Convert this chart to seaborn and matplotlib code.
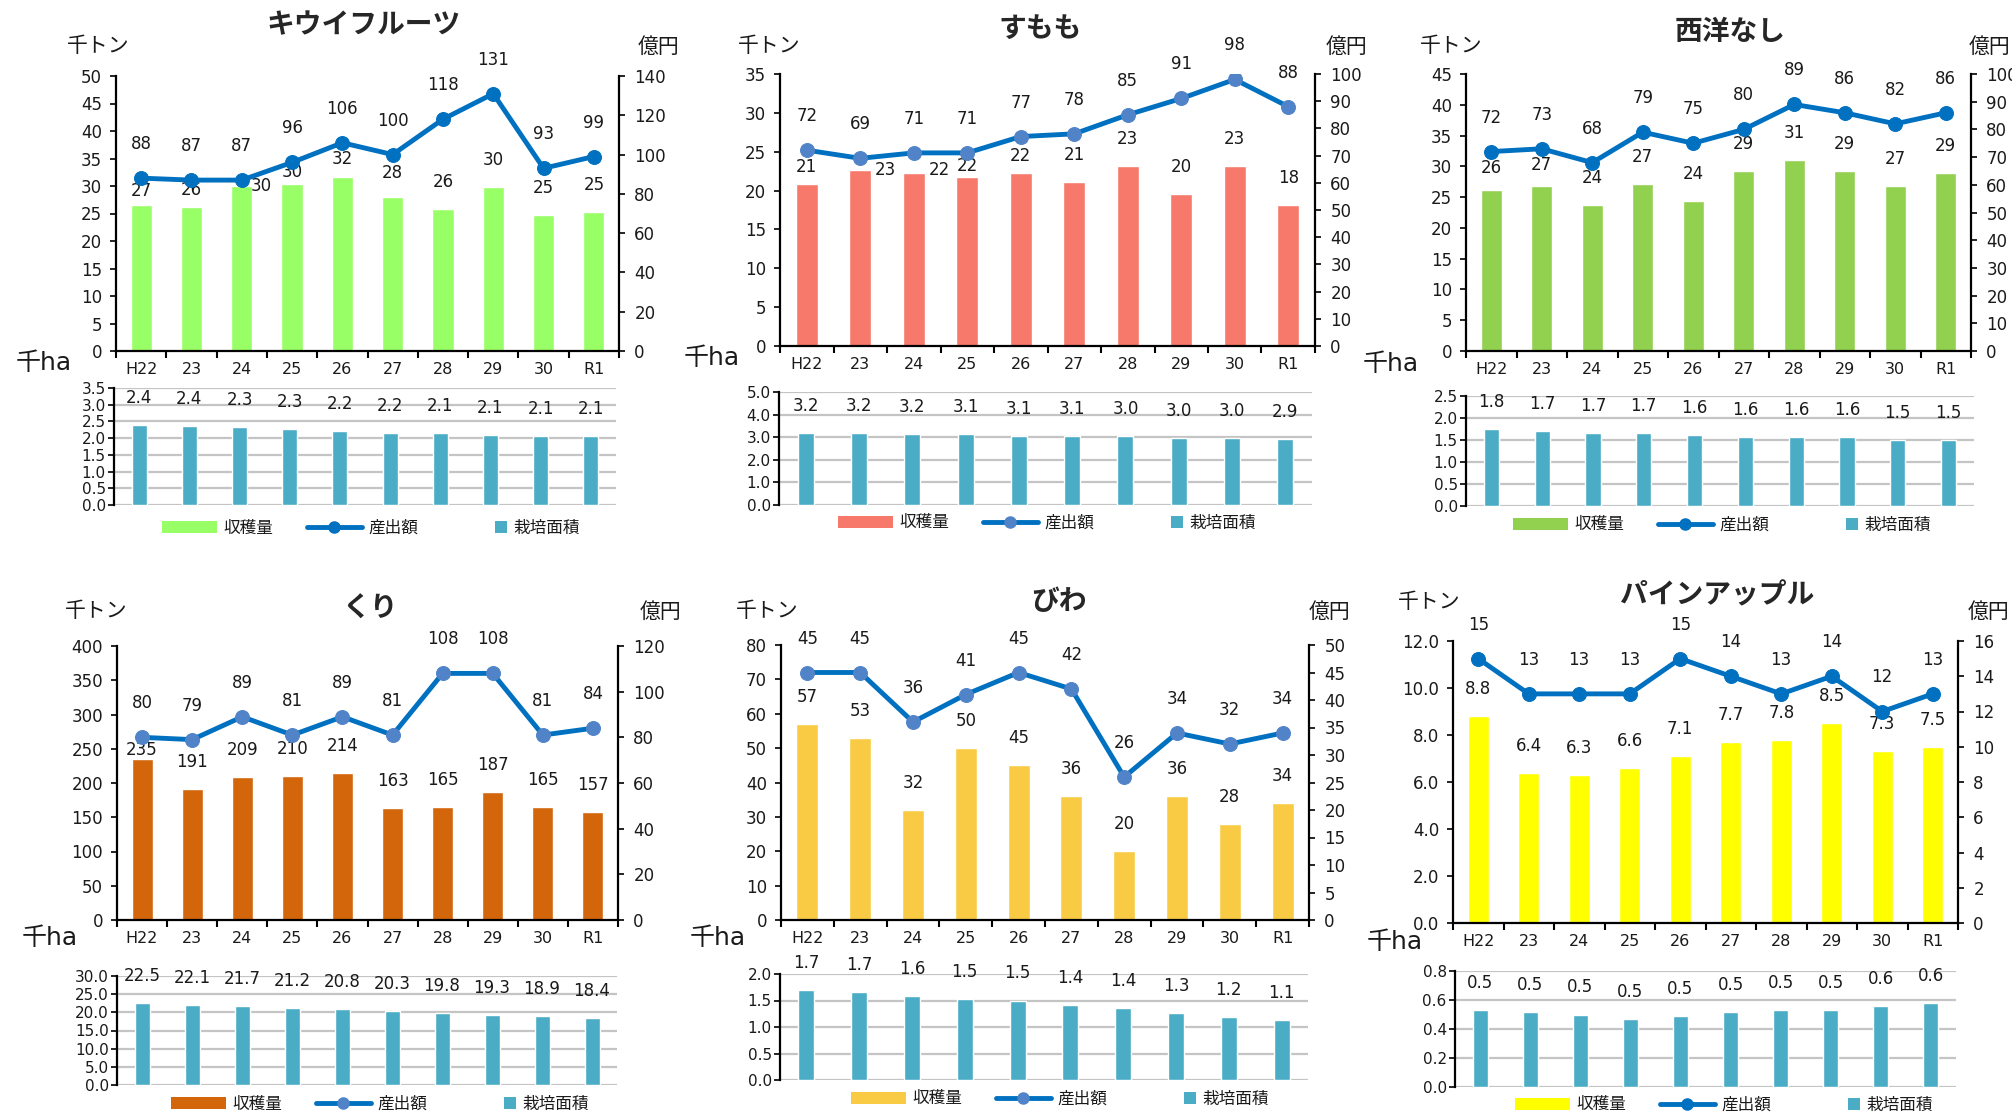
import numpy as np
import pandas as pd
import matplotlib
matplotlib.use("Agg")
import matplotlib.pyplot as plt
import seaborn as sns
from matplotlib.patches import Patch, Rectangle
from matplotlib.lines import Line2D
from matplotlib.legend_handler import HandlerBase
from matplotlib.ticker import MultipleLocator, FormatStrFormatter

# ---------------- data ----------------
years = ["H22", "23", "24", "25", "26", "27", "28", "29", "30", "R1"]

kiwi_harvest = [26.6, 26.2, 30.0, 30.4, 31.6, 28.0, 25.8, 29.9, 24.8, 25.2]
kiwi_output = [88, 87, 87, 96, 106, 100, 118, 131, 93, 99]
kiwi_area = [2.40, 2.36, 2.33, 2.28, 2.21, 2.16, 2.14, 2.08, 2.07, 2.06]

sumomo_harvest = [20.9, 22.6, 22.2, 21.7, 22.2, 21.1, 23.1, 19.6, 23.1, 18.1]
sumomo_output = [72, 69, 71, 71, 77, 78, 85, 91, 98, 88]
sumomo_area = [3.17, 3.17, 3.16, 3.14, 3.07, 3.06, 3.04, 2.98, 2.97, 2.94]

pear_harvest = [26.1, 26.8, 23.7, 27.1, 24.4, 29.2, 31.0, 29.2, 26.8, 28.9]
pear_output = [72, 73, 68, 79, 75, 80, 89, 86, 82, 86]
pear_area = [1.76, 1.70, 1.66, 1.66, 1.61, 1.56, 1.56, 1.56, 1.51, 1.51]

kuri_harvest = [235, 191, 209, 210, 214, 163, 165, 187, 165, 157]
kuri_output = [80, 79, 89, 81, 89, 81, 108, 108, 81, 84]
kuri_area = [22.5, 22.1, 21.7, 21.2, 20.8, 20.3, 19.8, 19.3, 18.9, 18.4]

biwa_harvest = [57, 53, 32, 50, 45, 36, 20, 36, 28, 34]
biwa_output = [45, 45, 36, 41, 45, 42, 26, 34, 32, 34]
biwa_area = [1.70, 1.66, 1.58, 1.53, 1.50, 1.42, 1.36, 1.26, 1.18, 1.13]

pine_harvest = [8.8, 6.4, 6.3, 6.6, 7.1, 7.7, 7.8, 8.5, 7.3, 7.5]
pine_output = [15, 13, 13, 13, 15, 14, 13, 14, 12, 13]
pine_area = [0.53, 0.52, 0.50, 0.47, 0.49, 0.52, 0.53, 0.53, 0.56, 0.58]

titles = ["キウイフルーツ", "すもも", "西洋なし", "くり", "びわ", "パインアップル"]
legend_labels = ["収穫量", "産出額", "栽培面積"]

# ---------------- style ----------------
sns.set_style("ticks")
plt.rcParams["font.family"] = ["DejaVu Sans", "Noto Sans CJK JP"]

W, H = 2012, 1113
PX = 72 / 100  # points per pixel
LINE_C = "#0070C0"
AREA_C = "#4BACC6"
TXT_C = "#1A1A1A"


def rect(x0, x1, y0, y1):
    return [x0 / W, 1 - y1 / H, (x1 - x0) / W, (y1 - y0) / H]


class SquareHandler(HandlerBase):
    def create_artists(self, legend, orig_handle, xdescent, ydescent,
                       width, height, fontsize, trans):
        s = height
        r = Rectangle((-xdescent + width - s, -ydescent), s, s,
                      facecolor=orig_handle.get_facecolor(), edgecolor="none",
                      transform=trans)
        return [r]


panels = [
    dict(title=titles[0], harvest=kiwi_harvest, output=kiwi_output, area=kiwi_area,
         bar_c="#99FF66", mk_c=LINE_C, lmax=50, lstep=5, rmax=140, rstep=20,
         bmax=3.5, bstep=0.5, hfmt="{:.0f}", lfmt="%d",
         top=(116, 619, 76, 351), bot=(114, 616, 388, 505),
         title_xy=(364, 25), ton_xy=(98, 46), yen_xy=(659, 47), ha_xy=(44, 363),
         leg_xy=(371, 528),
         nudge={0: (0, 14), 1: (0, 17), 2: (20, 0), 3: (0, 12), 4: (0, 18), 5: (0, 24)}),
    dict(title=titles[1], harvest=sumomo_harvest, output=sumomo_output, area=sumomo_area,
         bar_c="#F7796B", mk_c="#5083C8", lmax=35, lstep=5, rmax=100, rstep=10,
         bmax=5.0, bstep=1.0, hfmt="{:.0f}", lfmt="%d",
         top=(780, 1315, 74, 346), bot=(779, 1312, 392, 505),
         title_xy=(1040, 29), ton_xy=(769, 46), yen_xy=(1347, 47), ha_xy=(712, 358),
         leg_xy=(1047, 523),
         nudge={0: (0, 17), 1: (25, 0), 2: (26, 3), 3: (0, 11), 4: (0, 17)}),
    dict(title=titles[2], harvest=pear_harvest, output=pear_output, area=pear_area,
         bar_c="#92D050", mk_c=LINE_C, lmax=45, lstep=5, rmax=100, rstep=10,
         bmax=2.5, bstep=0.5, hfmt="{:.0f}", lfmt="%d",
         top=(1466, 1971, 74, 351), bot=(1466, 1974, 396, 506),
         title_xy=(1730, 32), ton_xy=(1451, 46), yen_xy=(1990, 47), ha_xy=(1391, 364),
         leg_xy=(1722, 525),
         nudge={0: (0, 22), 1: (0, 21)}),
    dict(title=titles[3], harvest=kuri_harvest, output=kuri_output, area=kuri_area,
         bar_c="#D3650A", mk_c="#5083C8", lmax=400, lstep=50, rmax=120, rstep=20,
         bmax=30.0, bstep=5.0, hfmt="{:.0f}", lfmt="%d",
         top=(117, 618, 646, 920), bot=(117, 617, 976, 1085),
         title_xy=(371, 609), ton_xy=(96, 611), yen_xy=(661, 612), ha_xy=(50, 938),
         leg_xy=(380, 1104),
         nudge={0: (0, 9)}),
    dict(title=titles[4], harvest=biwa_harvest, output=biwa_output, area=biwa_area,
         bar_c="#F9CB45", mk_c="#5083C8", lmax=80, lstep=10, rmax=50, rstep=5,
         bmax=2.0, bstep=0.5, hfmt="{:.0f}", lfmt="%d",
         top=(781, 1309, 645, 920), bot=(780, 1308, 974, 1080),
         title_xy=(1059, 602), ton_xy=(767, 611), yen_xy=(1330, 612), ha_xy=(718, 938),
         leg_xy=(1060, 1099),
         nudge={}),
    dict(title=titles[5], harvest=pine_harvest, output=pine_output, area=pine_area,
         bar_c="#FFFF00", mk_c=LINE_C, lmax=12.0, lstep=2.0, rmax=16, rstep=2,
         bmax=0.8, bstep=0.2, hfmt="{:.1f}", lfmt="%.1f",
         top=(1453, 1958, 641, 923), bot=(1455, 1956, 971, 1087),
         title_xy=(1717, 595), ton_xy=(1429, 602), yen_xy=(1989, 612), ha_xy=(1395, 942),
         leg_xy=(1724, 1105),
         nudge={}),
]

fig = plt.figure(figsize=(W / 100, H / 100), dpi=100)

n = len(years)
for p in panels:
    # ---- top: harvest bars + output line ----
    ax = fig.add_axes(rect(*p["top"]))
    df = pd.DataFrame({"year": years, "harvest": p["harvest"],
                       "output": p["output"], "area": p["area"]})
    sns.barplot(data=df, x="year", y="harvest", ax=ax, color=p["bar_c"],
                width=0.42, saturation=1, errorbar=None)
    ax.set_xlim(-0.5, n - 0.5)
    ax.set_ylim(0, p["lmax"])
    ax.yaxis.set_major_locator(MultipleLocator(p["lstep"]))
    ax.yaxis.set_major_formatter(FormatStrFormatter(p["lfmt"]))
    ax.set_xlabel("")
    ax.set_ylabel("")
    for s in ["top", "right"]:
        ax.spines[s].set_visible(False)
    for s in ["left", "bottom"]:
        ax.spines[s].set_color("black")
        ax.spines[s].set_linewidth(1.6)
    ax.set_xticks(np.arange(-0.5, n, 1), minor=True)
    ax.tick_params(axis="x", which="major", length=0, pad=8, labelsize=11.5,
                   labelcolor=TXT_C)
    ax.tick_params(axis="x", which="minor", length=5, width=1.5, direction="out",
                   color="black")
    ax.tick_params(axis="y", length=4, width=1.2, direction="out", pad=6,
                   labelsize=12, color="black", labelcolor=TXT_C)

    ax2 = ax.twinx()
    sns.lineplot(x=np.arange(n), y=p["output"], ax=ax2, color=LINE_C,
                 linewidth=3.5, marker="o", markersize=10,
                 markerfacecolor=p["mk_c"], markeredgecolor=p["mk_c"])
    ax2.set_xlim(-0.5, n - 0.5)
    ax2.set_ylim(0, p["rmax"])
    ax2.yaxis.set_major_locator(MultipleLocator(p["rstep"]))
    ax2.set_ylabel("")
    for s in ["top", "left", "bottom"]:
        ax2.spines[s].set_visible(False)
    ax2.spines["right"].set_color("black")
    ax2.spines["right"].set_linewidth(1.6)
    ax2.tick_params(axis="y", length=4, width=1.2, direction="out", pad=7,
                    labelsize=12, color="black", labelcolor=TXT_C)

    for i, v in enumerate(p["harvest"]):
        dx, dy = p["nudge"].get(i, (0, 27))
        ax.annotate(p["hfmt"].format(v), (i, v), xytext=(dx * PX, dy * PX),
                    textcoords="offset points", ha="center", va="center",
                    fontsize=12, color=TXT_C)
    for i, v in enumerate(p["output"]):
        ax2.annotate(f"{v:.0f}", (i, v), xytext=(0, 34 * PX),
                     textcoords="offset points", ha="center", va="center",
                     fontsize=12, color=TXT_C)

    # ---- bottom: cultivated area ----
    axb = fig.add_axes(rect(*p["bot"]))
    sns.barplot(data=df, x="year", y="area", ax=axb, color=AREA_C,
                width=0.3, saturation=1, errorbar=None)
    axb.set_xlim(-0.5, n - 0.5)
    axb.set_ylim(0, p["bmax"])
    axb.yaxis.set_major_locator(MultipleLocator(p["bstep"]))
    axb.yaxis.set_major_formatter(FormatStrFormatter("%.1f"))
    axb.set_xlabel("")
    axb.set_ylabel("")
    axb.set_xticks([])
    axb.grid(axis="y", color="#C4C4C4", linewidth=1.6)
    axb.set_axisbelow(True)
    for s in ["top", "right", "bottom"]:
        axb.spines[s].set_visible(False)
    axb.spines["left"].set_color("black")
    axb.spines["left"].set_linewidth(1.6)
    axb.tick_params(axis="y", length=4, width=1.2, direction="out", pad=2,
                    labelsize=11, color="black", labelcolor=TXT_C)
    for i, v in enumerate(p["area"]):
        axb.annotate(f"{v:.1f}", (i, v), xytext=(0, 27 * PX),
                     textcoords="offset points", ha="center", va="center",
                     fontsize=12, color=TXT_C, annotation_clip=False)

    # ---- texts ----
    fig.text(p["title_xy"][0] / W, 1 - p["title_xy"][1] / H, p["title"],
             ha="center", va="center", fontsize=20, fontweight="bold",
             family=["Noto Sans CJK JP", "DejaVu Sans"])
    fig.text(p["ton_xy"][0] / W, 1 - p["ton_xy"][1] / H, "千トン",
             ha="center", va="center", fontsize=15, color=TXT_C,
             family=["Noto Sans CJK JP", "DejaVu Sans"])
    fig.text(p["yen_xy"][0] / W, 1 - p["yen_xy"][1] / H, "億円",
             ha="center", va="center", fontsize=15, color=TXT_C,
             family=["Noto Sans CJK JP", "DejaVu Sans"])
    fig.text(p["ha_xy"][0] / W, 1 - p["ha_xy"][1] / H, "千ha",
             ha="center", va="center", fontsize=18, color=TXT_C)

    # ---- legend ----
    area_handle = Patch(facecolor=AREA_C)
    handles = [Patch(facecolor=p["bar_c"], edgecolor="none"),
               Line2D([], [], color=LINE_C, linewidth=3.5, marker="o",
                      markersize=8, markerfacecolor=p["mk_c"],
                      markeredgecolor=p["mk_c"]),
               area_handle]
    leg = fig.legend(handles, legend_labels, loc="center",
                     bbox_to_anchor=(p["leg_xy"][0] / W, 1 - p["leg_xy"][1] / H),
                     ncol=3, frameon=False, handlelength=3.3,
                     handleheight=0.7, handletextpad=0.4, columnspacing=2.0,
                     prop={"family": ["Noto Sans CJK JP", "DejaVu Sans"], "size": 12},
                     handler_map={area_handle: SquareHandler()})
    for t in leg.get_texts():
        t.set_color(TXT_C)

fig.savefig("out.png", dpi=100)
